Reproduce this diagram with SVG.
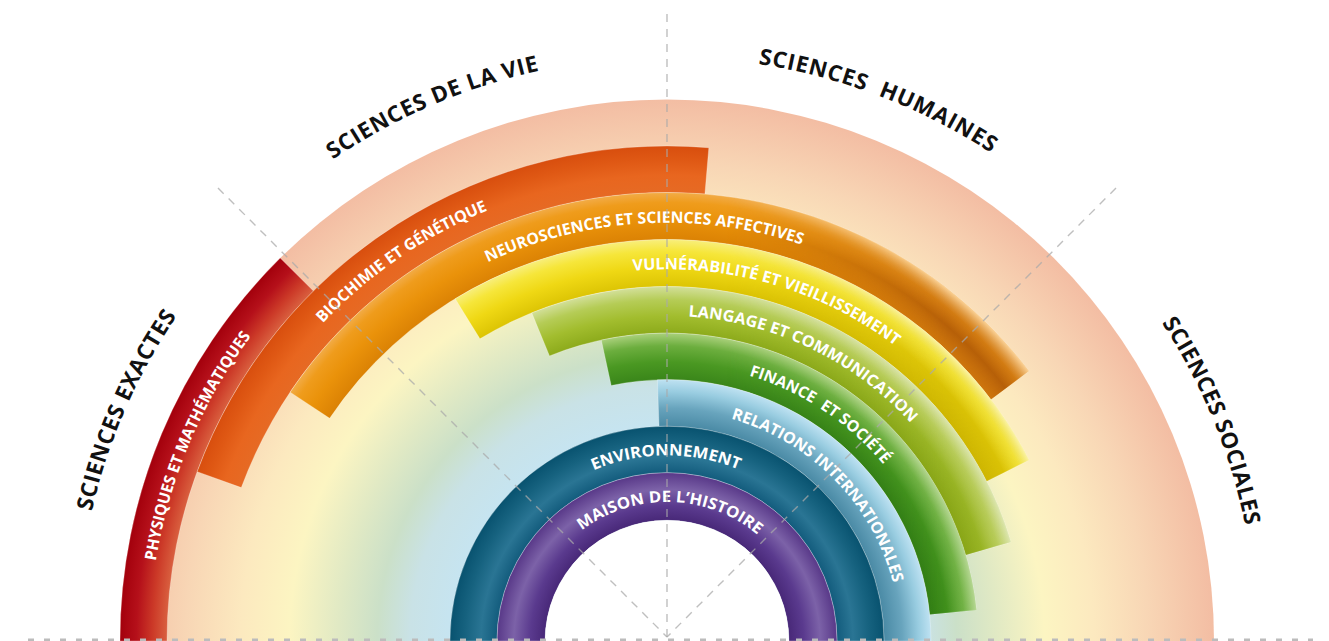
<svg xmlns="http://www.w3.org/2000/svg" width="1329" height="641" viewBox="0 0 1329 641">
<style>
.lbl{font-family:"Open Sans","Liberation Sans",sans-serif;font-weight:700;font-size:16px;fill:#fff}
.cat{font-family:"Open Sans","Liberation Sans",sans-serif;font-weight:700;font-size:22.5px;fill:#111}
.guide{fill:none;stroke:#a9a9a9;stroke-opacity:.75;stroke-width:1.4;stroke-dasharray:8 7}
.band{stroke:#fff;stroke-opacity:.35;stroke-width:.8}
</style>
<defs>
<radialGradient id="bg" gradientUnits="userSpaceOnUse" cx="0" cy="0" r="547">
<stop offset="0" stop-color="#ffffff"/><stop offset=".3" stop-color="#d4ecf5"/><stop offset=".4" stop-color="#c6e4f0"/><stop offset=".47" stop-color="#c9e2e6"/><stop offset=".53" stop-color="#cbe0c8"/><stop offset=".6" stop-color="#e0e9c4"/><stop offset=".69" stop-color="#fcf5c2"/><stop offset=".78" stop-color="#fce9bf"/><stop offset=".88" stop-color="#f8d6b5"/><stop offset="1" stop-color="#f3bda3"/>
</radialGradient>
<radialGradient id="gRed" gradientUnits="userSpaceOnUse" cx="0" cy="0" r="547">
<stop offset=".914" stop-color="#d9603f"/><stop offset=".94" stop-color="#cc3a28"/><stop offset=".97" stop-color="#b5101a"/><stop offset="1" stop-color="#a3000c"/>
</radialGradient>
<radialGradient id="gOR" gradientUnits="userSpaceOnUse" cx="0" cy="0" r="547">
<stop offset=".828" stop-color="#e66a24"/><stop offset=".86" stop-color="#e8661f"/><stop offset=".89" stop-color="#df5814"/><stop offset=".914" stop-color="#d84e0e"/>
</radialGradient>
<radialGradient id="gOr" gradientUnits="userSpaceOnUse" cx="0" cy="0" r="547">
<stop offset=".741" stop-color="#db8204"/><stop offset=".78" stop-color="#ea920a"/><stop offset=".81" stop-color="#ef9c1c"/><stop offset=".828" stop-color="#f2ab46"/>
</radialGradient>
<radialGradient id="gYe" gradientUnits="userSpaceOnUse" cx="0" cy="0" r="547">
<stop offset=".654" stop-color="#dcc404"/><stop offset=".69" stop-color="#efd814"/><stop offset=".72" stop-color="#f6e63a"/><stop offset=".741" stop-color="#f8ee7a"/>
</radialGradient>
<radialGradient id="gLg" gradientUnits="userSpaceOnUse" cx="0" cy="0" r="547">
<stop offset=".569" stop-color="#8dab1c"/><stop offset=".6" stop-color="#a2bd2e"/><stop offset=".63" stop-color="#b5cc56"/><stop offset=".654" stop-color="#d2df98"/>
</radialGradient>
<radialGradient id="gGr" gradientUnits="userSpaceOnUse" cx="0" cy="0" r="547">
<stop offset=".483" stop-color="#3a861a"/><stop offset=".515" stop-color="#4a9822"/><stop offset=".545" stop-color="#6cae3e"/><stop offset=".569" stop-color="#abd17c"/>
</radialGradient>
<radialGradient id="gLb" gradientUnits="userSpaceOnUse" cx="0" cy="0" r="547">
<stop offset=".397" stop-color="#4a8aa5"/><stop offset=".43" stop-color="#68a4bd"/><stop offset=".46" stop-color="#98cce0"/><stop offset=".483" stop-color="#bfe2f2"/>
</radialGradient>
<radialGradient id="gTe" gradientUnits="userSpaceOnUse" cx="0" cy="0" r="547">
<stop offset=".311" stop-color="#135c7d"/><stop offset=".34" stop-color="#2a7594"/><stop offset=".37" stop-color="#16627f"/><stop offset=".397" stop-color="#08526f"/>
</radialGradient>
<radialGradient id="gPu" gradientUnits="userSpaceOnUse" cx="0" cy="0" r="547">
<stop offset=".223" stop-color="#482878"/><stop offset=".25" stop-color="#5a3a8e"/><stop offset=".28" stop-color="#7c62a8"/><stop offset=".311" stop-color="#583888"/>
</radialGradient>
<radialGradient id="ovOr" gradientUnits="userSpaceOnUse" cx="0" cy="0" r="547">
<stop offset=".741" stop-color="#c87010" stop-opacity=".7"/><stop offset=".775" stop-color="#b05a08" stop-opacity=".9"/><stop offset=".8" stop-color="#c06810" stop-opacity=".6"/><stop offset=".828" stop-color="#fbd6a0" stop-opacity=".85"/>
</radialGradient>
<radialGradient id="ovYe" gradientUnits="userSpaceOnUse" cx="0" cy="0" r="547">
<stop offset=".654" stop-color="#c4ac00" stop-opacity=".6"/><stop offset=".69" stop-color="#d0b800" stop-opacity=".7"/><stop offset=".72" stop-color="#e8d830" stop-opacity=".4"/><stop offset=".741" stop-color="#faf2a8" stop-opacity=".85"/>
</radialGradient>
<radialGradient id="ovLg" gradientUnits="userSpaceOnUse" cx="0" cy="0" r="547">
<stop offset=".569" stop-color="#86a214" stop-opacity=".6"/><stop offset=".6" stop-color="#92ae1e" stop-opacity=".6"/><stop offset=".63" stop-color="#bccc60" stop-opacity=".4"/><stop offset=".654" stop-color="#dde6b0" stop-opacity=".85"/>
</radialGradient>
<radialGradient id="ovGr" gradientUnits="userSpaceOnUse" cx="0" cy="0" r="547">
<stop offset=".483" stop-color="#2c7810" stop-opacity=".6"/><stop offset=".515" stop-color="#3a8a18" stop-opacity=".6"/><stop offset=".545" stop-color="#7ab850" stop-opacity=".4"/><stop offset=".569" stop-color="#b8d898" stop-opacity=".85"/>
</radialGradient>
<linearGradient id="mg" gradientUnits="userSpaceOnUse" x1="60" y1="0" x2="280" y2="0">
<stop offset="0" stop-color="#000"/><stop offset="1" stop-color="#fff"/>
</linearGradient>
<mask id="mR" maskUnits="userSpaceOnUse" x="-600" y="-600" width="1200" height="700">
<rect x="-600" y="-600" width="1200" height="700" fill="url(#mg)"/>
</mask>
</defs>
<rect width="1329" height="641" fill="#fff"/>
<g transform="translate(667 641) scale(1 .99)">
<g id="background"><path d="M-547 0A547 547 0 0 1 547 0Z" fill="url(#bg)"/></g>
<g id="physiques">
<path class="band" d="M-547 0A547 547 0 0 1 -386.79 -386.79L-353.55 -353.55A500 500 0 0 0 -500 0Z" fill="url(#gRed)"/>
<path id="p1" d="M-511.13 -80.95A517.5 517.5 0 0 1 -369.11 -362.72" fill="none"/>
<text class="lbl"><textPath href="#p1" textLength="248.4" lengthAdjust="spacingAndGlyphs">PHYSIQUES ET MATHÉMATIQUES</textPath></text>
</g>
<g id="biochimie">
<path class="band" d="M-469.85 -171.01A500 500 0 0 1 41.84 -498.25L37.91 -451.41A453 453 0 0 0 -425.68 -154.94Z" fill="url(#gOR)"/>
<path id="p2" d="M-344.10 -320.88A470.5 470.5 0 0 1 -113.82 -456.52" fill="none"/>
<text class="lbl"><textPath href="#p2" textLength="202" lengthAdjust="spacingAndGlyphs">BIOCHIMIE ET GÉNÉTIQUE</textPath></text>
</g>
<g id="neurosciences">
<path class="band" d="M-376.87 -251.34A453 453 0 0 1 361.78 -272.62L323.85 -244.04A405.5 405.5 0 0 0 -337.36 -224.99Z" fill="url(#gOr)"/>
<path d="M-376.87 -251.34A453 453 0 0 1 361.78 -272.62L323.85 -244.04A405.5 405.5 0 0 0 -337.36 -224.99Z" fill="url(#ovOr)" mask="url(#mR)"/>
<path id="p3" d="M-179.23 -382.61A422.5 422.5 0 0 1 191.81 -376.45" fill="none"/>
<text class="lbl"><textPath href="#p3" textLength="322.2" lengthAdjust="spacingAndGlyphs">NEUROSCIENCES ET SCIENCES AFFECTIVES</textPath></text>
</g>
<g id="vulnerabilite">
<path class="band" d="M-211.87 -345.75A405.5 405.5 0 0 1 361.95 -182.83L319.55 -161.42A358 358 0 0 0 -187.06 -305.25Z" fill="url(#gYe)"/>
<path d="M-211.87 -345.75A405.5 405.5 0 0 1 361.95 -182.83L319.55 -161.42A358 358 0 0 0 -187.06 -305.25Z" fill="url(#ovYe)" mask="url(#mR)"/>
<path id="p4" d="M-34.03 -373.95A375.5 375.5 0 0 1 265.52 -265.52" fill="none"/>
<text class="lbl"><textPath href="#p4" textLength="279.2" lengthAdjust="spacingAndGlyphs">VULNÉRABILITÉ ET VIEILLISSEMENT</textPath></text>
</g>
<g id="langage">
<path class="band" d="M-135.27 -331.46A358 358 0 0 1 343.78 -99.88L298.65 -86.77A311 311 0 0 0 -117.51 -287.95Z" fill="url(#gLg)"/>
<path d="M-135.27 -331.46A358 358 0 0 1 343.78 -99.88L298.65 -86.77A311 311 0 0 0 -117.51 -287.95Z" fill="url(#ovLg)" mask="url(#mR)"/>
<path id="p5" d="M21.2 -327.82A328.5 328.5 0 0 1 269.09 -188.42" fill="none"/>
<text class="lbl"><textPath href="#p5" textLength="253.4" lengthAdjust="spacingAndGlyphs">LANGAGE ET COMMUNICATION</textPath></text>
</g>
<g id="finance">
<path class="band" d="M-65.72 -303.98A311 311 0 0 1 309.41 -31.43L262.65 -26.68A264 264 0 0 0 -55.79 -258.04Z" fill="url(#gGr)"/>
<path d="M-65.72 -303.98A311 311 0 0 1 309.41 -31.43L262.65 -26.68A264 264 0 0 0 -55.79 -258.04Z" fill="url(#ovGr)" mask="url(#mR)"/>
<path id="p6" d="M82.02 -268.24A280.5 280.5 0 0 1 237.88 -148.64" fill="none"/>
<text class="lbl"><textPath href="#p6" textLength="164" lengthAdjust="spacingAndGlyphs" xml:space="preserve">FINANCE  ET SOCIÉTÉ</textPath></text>
</g>
<g id="relations">
<path class="band" d="M-9.67 -263.82A264 264 0 0 1 264 0L217 0A217 217 0 0 0 -7.95 -216.85Z" fill="url(#gLb)"/>
<path id="p7" d="M63.97 -224.57A233.5 233.5 0 0 1 231.76 -28.46" fill="none"/>
<text class="lbl"><textPath href="#p7" textLength="242.5" lengthAdjust="spacingAndGlyphs">RELATIONS INTERNATIONALES</textPath></text>
</g>
<g id="environnement">
<path class="band" d="M-217 0A217 217 0 0 1 217 0L170 0A170 170 0 0 0 -170 0Z" fill="url(#gTe)"/>
<path id="p8" d="M-73.57 -172.47A187.5 187.5 0 0 1 93.75 -162.38" fill="none"/>
<text class="lbl"><textPath href="#p8" textLength="148.9" lengthAdjust="spacingAndGlyphs">ENVIRONNEMENT</textPath></text>
</g>
<g id="maison">
<path class="band" d="M-170 0A170 170 0 0 1 170 0L122 0A122 122 0 0 0 -122 0Z" fill="url(#gPu)"/>
<path id="p9" d="M-85.15 -111.76A140.5 140.5 0 0 1 104.41 -94.01" fill="none"/>
<text class="lbl"><textPath href="#p9" textLength="189.8" lengthAdjust="spacingAndGlyphs">MAISON DE L’HISTOIRE</textPath></text>
</g>
<g id="centre"><path d="M-122 0A122 122 0 0 1 122 0Z" fill="#fff"/></g>
<g id="cat-exactes">
<path id="c1" d="M-575.34 -130.7A590 590 0 0 1 -438.45 -394.79" fill="none"/>
<text class="cat"><textPath href="#c1" textLength="216.2" lengthAdjust="spacing">SCIENCES EXACTES</textPath></text>
</g>
<g id="cat-vie">
<path id="c2" d="M-334.18 -486.24A590 590 0 0 1 -51.42 -587.75" fill="none"/>
<text class="cat"><textPath href="#c2" textLength="226.5" lengthAdjust="spacing">SCIENCES DE LA VIE</textPath></text>
</g>
<g id="cat-humaines">
<path id="c3" d="M91.28 -582.9A590 590 0 0 1 387.08 -445.28" fill="none"/>
<text class="cat"><textPath href="#c3" textLength="251.3" lengthAdjust="spacing" xml:space="preserve">SCIENCES  HUMAINES</textPath></text>
</g>
<g id="cat-sociales">
<path id="c4" d="M494.82 -321.34A590 590 0 0 1 588.56 -41.16" fill="none"/>
<text class="cat"><textPath href="#c4" textLength="222.4" lengthAdjust="spacing">SCIENCES SOCIALES</textPath></text>
</g>
</g>
<g id="connectors">
<line class="guide" x1="667" y1="14" x2="667" y2="641"/>
<line class="guide" x1="218" y1="188" x2="667" y2="637"/>
<line class="guide" x1="1116" y1="188" x2="667" y2="637"/>
<line x1="28" y1="640" x2="1313" y2="640" stroke="#bcbcbc" stroke-width="3" stroke-dasharray="6 10"/>
</g>
</svg>
